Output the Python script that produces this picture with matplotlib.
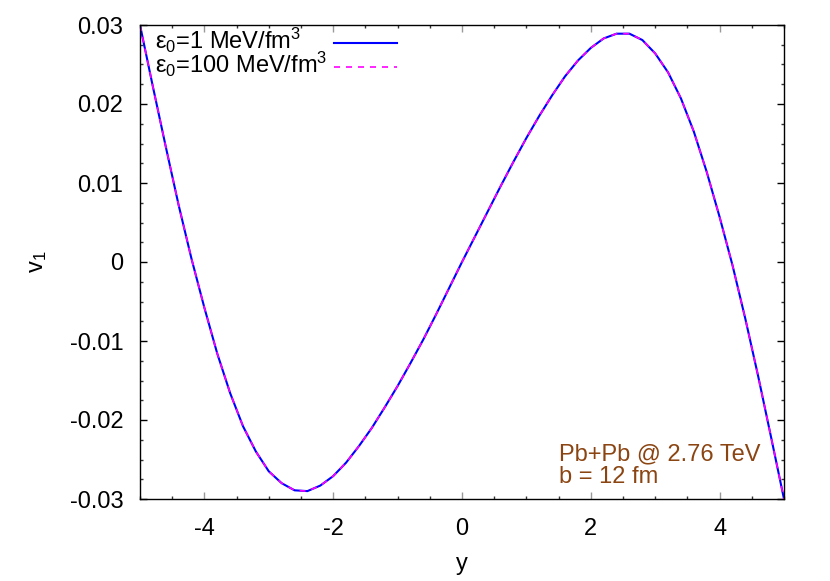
import numpy as np
import matplotlib.pyplot as plt
from matplotlib.ticker import MultipleLocator

plt.rcParams['font.family'] = ['Liberation Sans', 'DejaVu Sans']
plt.rcParams['mathtext.fontset'] = 'custom'
plt.rcParams['mathtext.rm'] = 'Liberation Sans'
plt.rcParams['mathtext.it'] = 'Liberation Sans:italic'

# rapidity grid and v1 values
rapidity = [-5.0, -4.8, -4.6, -4.4, -4.2, -4.0, -3.8, -3.6, -3.4, -3.2,
            -3.0, -2.8, -2.6, -2.4, -2.2, -2.0, -1.8, -1.6, -1.4, -1.2,
            -1.0, -0.8, -0.6, -0.4, -0.2, 0.0, 0.2, 0.4, 0.6, 0.8,
            1.0, 1.2, 1.4, 1.6, 1.8, 2.0, 2.2, 2.4, 2.6, 2.8,
            3.0, 3.2, 3.4, 3.6, 3.8, 4.0, 4.2, 4.4, 4.6, 4.8, 5.0]
v1_eps1 = [0.0300, 0.0222, 0.0146, 0.0072, 0.0004, -0.0058, -0.0116, -0.0166, -0.0208, -0.0240,
           -0.0265, -0.0280, -0.0289, -0.0290, -0.0283, -0.0271, -0.0254, -0.0233, -0.0210, -0.0184,
           -0.0157, -0.0128, -0.0098, -0.0066, -0.0033, 0.0000, 0.0032, 0.0064, 0.0096, 0.0127,
           0.0157, 0.0185, 0.0211, 0.0235, 0.0255, 0.0271, 0.0283, 0.0289, 0.0289, 0.0281,
           0.0264, 0.0240, 0.0207, 0.0165, 0.0114, 0.0057, -0.0004, -0.0072, -0.0145, -0.0222, -0.0300]
v1_eps100 = list(v1_eps1)

labels = [r'$\mathregular{ε_0}$=1 MeV/fm$\mathregular{^3}$',
          r'$\mathregular{ε_0}$=100 MeV/fm$\mathregular{^3}$']
colors = ['#0000ff', '#ff00ff']
annot = ['Pb+Pb @ 2.76 TeV', 'b = 12 fm']

fs = 17

fig = plt.figure(figsize=(8.3, 5.81), dpi=100)
ax = fig.add_axes([140/830, 1 - 499/581, 644/830, 474/581])

ax.plot(rapidity, v1_eps1, color=colors[0], lw=1.5)
ax.plot(rapidity, v1_eps100, color=colors[1], lw=1.2, dashes=(3.6, 3.6))

ax.set_xlim(-5, 5)
ax.set_ylim(-0.03, 0.03)
ax.xaxis.set_minor_locator(MultipleLocator(0.5))
ax.yaxis.set_minor_locator(MultipleLocator(0.0025))
ax.set_yticks([-0.03, -0.02, -0.01, 0, 0.01, 0.02, 0.03])
ax.set_yticklabels(['-0.03', '-0.02', '-0.01', '0', '0.01', '0.02', '0.03'])
ax.set_xticks([-4, -2, 0, 2, 4])
ax.set_xticklabels(['-4', '-2', '0', '2', '4'])

ax.tick_params(which='both', direction='in', top=True, right=True, labelsize=fs)
ax.tick_params(which='major', length=5, width=1)
ax.tick_params(which='minor', length=2.5, width=1, color='#333333')
ax.tick_params(axis='x', which='major', color='#999999', pad=14)
ax.tick_params(axis='y', which='major', pad=12)
for s in ax.spines.values():
    s.set_linewidth(1.0)

ax.set_xlabel('y', fontsize=fs, labelpad=9)
ax.set_ylabel(r'v$\mathregular{_1}$', fontsize=fs, labelpad=15)

# key: text on the left, sample line on the right (gnuplot style)
key_rows = [0.9487, 0.8981]
for lab, col, yb, dash in zip(labels, colors, key_rows, [None, (3.6, 3.6)]):
    ax.text(0.0233, yb, lab, transform=ax.transAxes, fontsize=fs,
            ha='left', va='baseline')
    ln, = ax.plot([0.301, 0.399], [yb + 0.0135, yb + 0.0135], transform=ax.transAxes,
                  color=col, lw=1.5 if dash is None else 1.2, clip_on=False)
    if dash is not None:
        ln.set_dashes(dash)

for txt, yb in zip(annot, [0.0823, 0.0338]):
    ax.text(0.6506, yb, txt, transform=ax.transAxes, fontsize=fs,
            color='#8b4513', ha='left', va='baseline')

fig.savefig('out.png', dpi=100)
